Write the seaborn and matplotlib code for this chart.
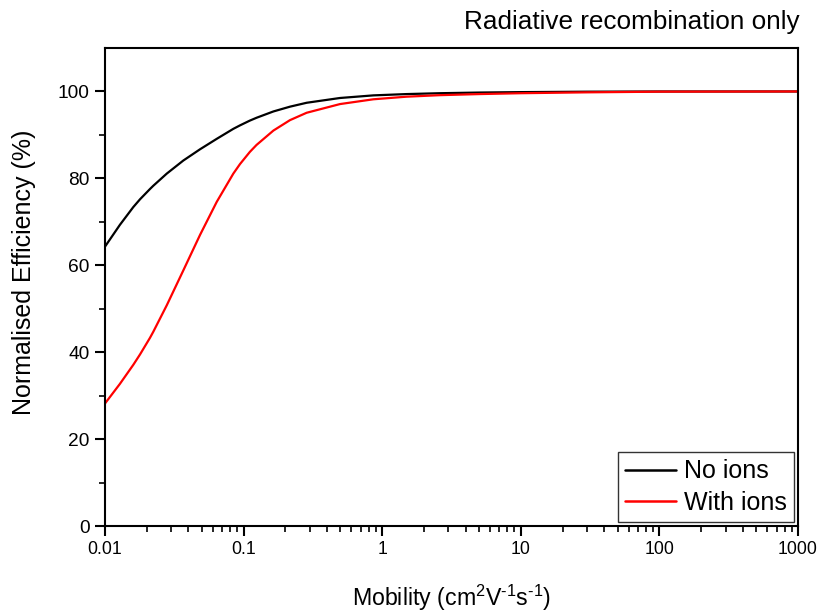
import numpy as np
import pandas as pd
import matplotlib
matplotlib.use("Agg")
import matplotlib.pyplot as plt
from matplotlib.ticker import LogLocator, FixedLocator, NullFormatter, FixedFormatter
import seaborn as sns

# Mobility grid (cm^2 V^-1 s^-1) and normalised efficiency (%)
mobility = [0.01, 0.0128, 0.016, 0.0179, 0.0211, 0.0223, 0.0279, 0.0367, 0.0485,
            0.064, 0.0843, 0.0942, 0.111, 0.124, 0.164, 0.216, 0.285, 0.496,
            0.863, 1.5, 2.61, 5, 10, 30, 100, 1000]
eff_no_ions = [64.3, 69.3, 73.4, 75.2, 77.55, 78.3, 81.1, 84.1, 86.7,
               89.1, 91.4, 92.2, 93.3, 93.95, 95.4, 96.5, 97.4, 98.5,
               99.1, 99.4, 99.6, 99.75, 99.85, 99.95, 100.0, 100.0]
eff_with_ions = [28.2, 32.7, 37.1, 39.5, 43.3, 44.7, 50.8, 58.8, 67.0,
                 74.6, 81.1, 83.3, 86.1, 87.7, 91.0, 93.4, 95.1, 97.1,
                 98.2, 98.8, 99.15, 99.4, 99.6, 99.8, 99.95, 100.0]
series_names = ["No ions", "With ions"]
series_colors = ["#000000", "#ff0000"]
x_tick_values = [0.01, 0.1, 1, 10, 100, 1000]
x_tick_labels = ["0.01", "0.1", "1", "10", "100", "1000"]
y_tick_values = [0, 20, 40, 60, 80, 100]
y_minor_values = [10, 30, 50, 70, 90]

df = pd.DataFrame({
    "Mobility": mobility * 2,
    "Efficiency": eff_no_ions + eff_with_ions,
    "Series": [series_names[0]] * len(mobility) + [series_names[1]] * len(mobility),
})

sns.set_style("ticks")
plt.rcParams["font.family"] = ["Liberation Sans", "DejaVu Sans"]
plt.rcParams["mathtext.fontset"] = "custom"
plt.rcParams["mathtext.rm"] = "Liberation Sans"
plt.rcParams["mathtext.it"] = "Liberation Sans"
plt.rcParams["text.color"] = "black"
plt.rcParams["axes.labelcolor"] = "black"
plt.rcParams["xtick.color"] = "black"
plt.rcParams["ytick.color"] = "black"

fig = plt.figure(figsize=(8.23, 6.14), dpi=100)
ax = fig.add_axes([0.1276, 0.1433, 0.8420, 0.7785])

sns.lineplot(data=df, x="Mobility", y="Efficiency", hue="Series",
             palette=dict(zip(series_names, series_colors)), linewidth=1.6,
             ax=ax, legend=True)

ax.set_xscale("log")
ax.set_xlim(0.01, 1000)
ax.set_ylim(0, 110)

ax.xaxis.set_major_locator(FixedLocator(x_tick_values))
ax.xaxis.set_major_formatter(FixedFormatter(x_tick_labels))
ax.xaxis.set_minor_locator(LogLocator(base=10, subs=np.arange(2, 10)))
ax.xaxis.set_minor_formatter(NullFormatter())
ax.yaxis.set_major_locator(FixedLocator(y_tick_values))
ax.yaxis.set_minor_locator(FixedLocator(y_minor_values))

for side in ["left", "bottom", "top", "right"]:
    ax.spines[side].set_visible(True)
    ax.spines[side].set_linewidth(1.5)
    ax.spines[side].set_color("black")

ax.tick_params(which="major", direction="out", length=7, width=1.5,
               colors="black", pad=4, top=False, right=False)
ax.tick_params(which="minor", direction="out", length=4, width=1.2,
               top=False, right=False)
ax.tick_params(axis="x", which="major", labelsize=12.7)
ax.tick_params(axis="y", which="major", labelsize=13.8)

ax.set_xlabel(r"Mobility (cm$^{2}$V$^{\text{-1}}$s$^{\text{-1}}$)", fontsize=16.7,
              labelpad=18)
ax.set_ylabel("Normalised Efficiency (%)", fontsize=18)
ax.yaxis.set_label_coords(-0.099, 0.53)

leg = ax.legend(loc="lower right", fontsize=18, frameon=True, fancybox=False,
                edgecolor="black", borderaxespad=0.15, handlelength=2.05,
                handletextpad=0.3, borderpad=0.3, labelspacing=0.3)
leg.get_frame().set_linewidth(1.0)
for line in leg.get_lines():
    line.set_linewidth(1.8)

fig.text(0.972, 0.964, "Radiative recombination only", ha="right", va="center",
         fontsize=18.8)

fig.savefig("out.png", dpi=100)
